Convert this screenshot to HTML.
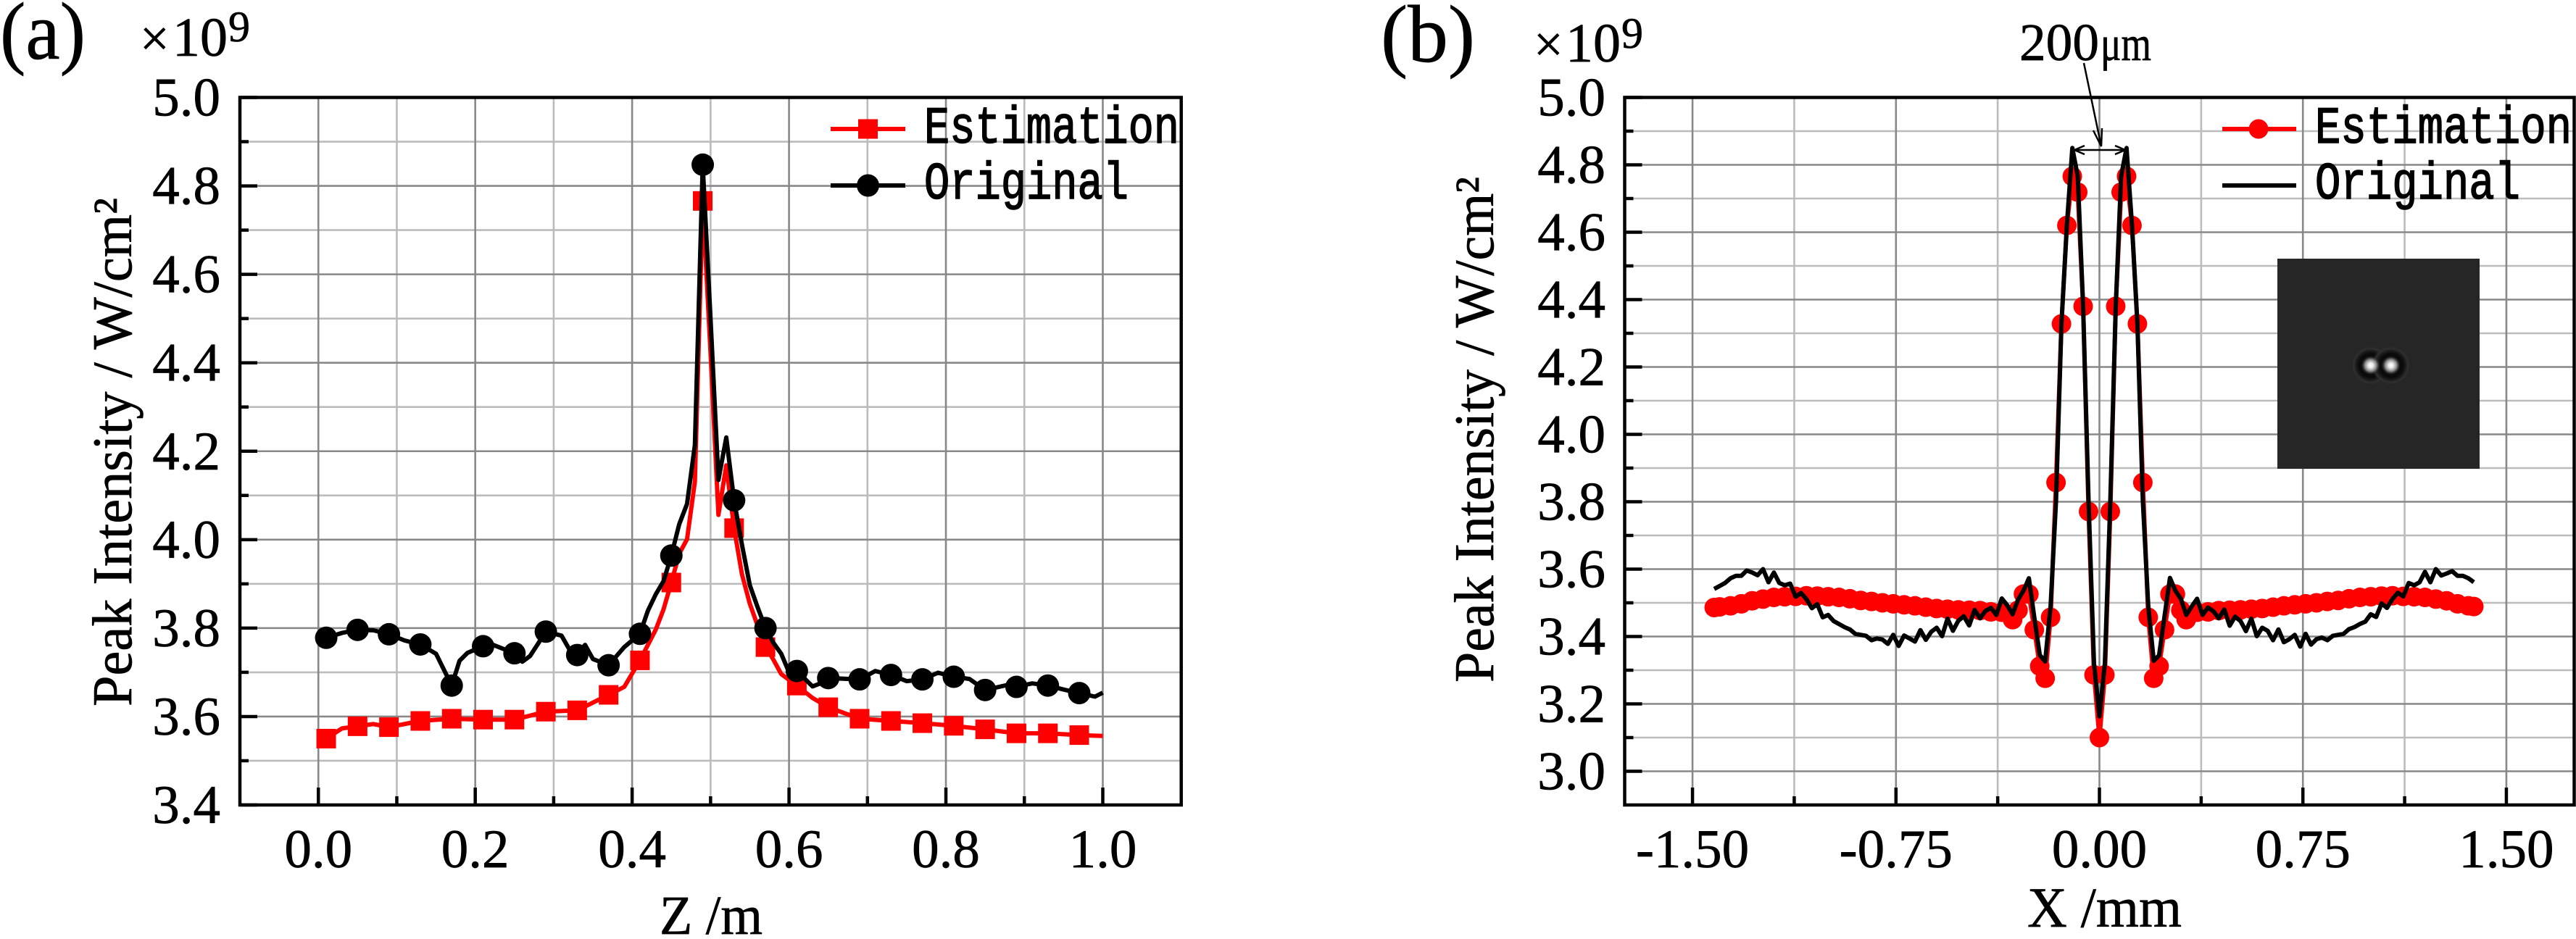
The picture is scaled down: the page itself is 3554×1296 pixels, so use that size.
<!DOCTYPE html>
<html lang="en">
<head>
<meta charset="utf-8">
<title>Peak intensity charts</title>
<style>
html,body{margin:0;padding:0;background:#fff;width:3554px;height:1296px;overflow:hidden}
svg{display:block}
text{font-family:"Liberation Serif","Noto Serif CJK SC",serif;fill:#000;stroke:#000;stroke-width:.7px}
text.mono{font-family:"Liberation Mono",monospace;stroke-width:1.6px}
</style>
</head>
<body>
<svg id="figure" xmlns="http://www.w3.org/2000/svg" width="3554" height="1296" viewBox="0 0 3554 1296">
  <defs>
    <radialGradient id="spot-halo">
      <stop offset="0" stop-color="#050505"/>
      <stop offset="0.6" stop-color="#0a0a0a"/>
      <stop offset="0.74" stop-color="#1a1a1a"/>
      <stop offset="0.87" stop-color="#303030"/>
      <stop offset="1" stop-color="#262626" stop-opacity="0"/>
    </radialGradient>
    <radialGradient id="spot-core">
      <stop offset="0" stop-color="#ffffff"/>
      <stop offset="0.25" stop-color="#e8e8e8"/>
      <stop offset="0.6" stop-color="#808080"/>
      <stop offset="1" stop-color="#0a0a0a" stop-opacity="0"/>
    </radialGradient>
  </defs>
  <rect width="3554" height="1296" fill="#fff"/>

  <g id="panel-a"></g>
  <g id="panel-b"></g>

  <text x="0" y="81" font-size="112" textLength="118" lengthAdjust="spacingAndGlyphs">(a)</text>
  <text x="1905" y="85" font-size="112" textLength="130" lengthAdjust="spacingAndGlyphs">(b)</text>

  <g>
    <text x="193" y="77" font-size="72">×</text>
    <text x="238" y="77" font-size="76">10</text>
    <text x="315" y="57" font-size="60">9</text>
  </g>
  <g>
    <text x="2116" y="85" font-size="72">×</text>
    <text x="2160" y="85" font-size="76">10</text>
    <text x="2237" y="66" font-size="60">9</text>
  </g>

  <text transform="translate(181,975) rotate(-90)" font-size="77" textLength="702" lengthAdjust="spacingAndGlyphs">Peak Intensity / W/cm²</text>
  <text transform="translate(2060,942) rotate(-90)" font-size="77" textLength="698" lengthAdjust="spacingAndGlyphs">Peak Intensity / W/cm²</text>
  <text x="910" y="1289" font-size="76" textLength="142" lengthAdjust="spacingAndGlyphs">Z /m</text>
  <text x="2797" y="1279" font-size="78" textLength="213" lengthAdjust="spacingAndGlyphs">X /mm</text>

  <g>
    <rect x="3142" y="357" width="279" height="290" fill="#262626"/>
    <circle cx="3270.7" cy="504.3" r="27" fill="url(#spot-halo)"/>
    <circle cx="3298.7" cy="504.3" r="27" fill="url(#spot-halo)"/>
    <circle cx="3270.7" cy="504.3" r="14" fill="url(#spot-core)"/>
    <circle cx="3298.7" cy="504.3" r="14" fill="url(#spot-core)"/>
  </g>

  <g>
    <text x="2786" y="83" font-size="73" textLength="110" lengthAdjust="spacingAndGlyphs">200</text>
    <text x="2898" y="83" font-size="68" textLength="70" lengthAdjust="spacingAndGlyphs">μm</text>
    <path d="M2875 87L2899 202M2888 180L2899 202L2900 177" fill="none" stroke="#000" stroke-width="2.5"/>
    <path d="M2862 207H2932M2876 201L2862 207L2876 213M2918 201L2932 207L2918 213" fill="none" stroke="#000" stroke-width="2.5"/>
  </g>
</svg>
<script>
/* ---------- panel (a) data ---------- */
const zMajorTicks = [0, 0.2, 0.4, 0.6, 0.8, 1.0];
const zMinorTicks = [0.1, 0.3, 0.5, 0.7, 0.9];
const zTickLabels = ["0.0", "0.2", "0.4", "0.6", "0.8", "1.0"];
const intensityMajorA = [3.4, 3.6, 3.8, 4.0, 4.2, 4.4, 4.6, 4.8, 5.0];
const intensityMinorA = [3.5, 3.7, 3.9, 4.1, 4.3, 4.5, 4.7, 4.9];
const intensityLabelsA = ["3.4", "3.6", "3.8", "4.0", "4.2", "4.4", "4.6", "4.8", "5.0"];

const originalZ = [0.01,0.03,0.05,0.07,0.09,0.11,0.13,0.15,0.17,0.18,0.19,0.21,0.22,0.25,0.26,0.27,0.29,0.31,0.32,0.33,0.34,0.35,0.37,0.39,0.41,0.42,0.43,0.44,0.45,0.46,0.47,0.48,0.49,0.50,0.51,0.52,0.53,0.54,0.55,0.56,0.57,0.58,0.59,0.60,0.61,0.63,0.64,0.65,0.69,0.71,0.73,0.75,0.77,0.79,0.81,0.83,0.85,0.88,0.89,0.91,0.93,0.95,0.97,0.99,1.00];
const originalIntensityA = [3.778,3.789,3.796,3.795,3.786,3.772,3.763,3.742,3.670,3.726,3.744,3.759,3.764,3.743,3.724,3.737,3.792,3.783,3.752,3.739,3.762,3.730,3.716,3.757,3.787,3.839,3.876,3.906,3.964,4.035,4.081,4.214,4.848,4.500,4.135,4.231,4.089,3.989,3.897,3.847,3.800,3.767,3.742,3.700,3.703,3.668,3.675,3.687,3.684,3.703,3.694,3.680,3.684,3.699,3.690,3.685,3.660,3.672,3.667,3.675,3.670,3.661,3.653,3.645,3.654];
const estimationZ = [0.01,0.03,0.05,0.07,0.09,0.13,0.17,0.21,0.25,0.29,0.33,0.37,0.39,0.41,0.43,0.44,0.45,0.46,0.47,0.48,0.49,0.50,0.51,0.52,0.53,0.54,0.55,0.56,0.57,0.58,0.59,0.61,0.63,0.65,0.69,0.73,0.77,0.81,0.85,0.89,0.93,0.97,1.00];
const estimationIntensityA = [3.550,3.573,3.578,3.583,3.576,3.590,3.595,3.593,3.593,3.611,3.614,3.649,3.667,3.727,3.796,3.842,3.903,3.968,4.001,4.131,4.766,4.423,4.056,4.168,4.026,3.922,3.855,3.805,3.757,3.729,3.696,3.670,3.642,3.621,3.595,3.590,3.585,3.579,3.571,3.562,3.562,3.558,3.556];

/* ---------- panel (b) data ---------- */
const xMajorTicks = [-1.5, -0.75, 0, 0.75, 1.5];
const xMinorTicks = [-1.125, -0.375, 0.375, 1.125];
const xTickLabels = ["-1.50", "-0.75", "0.00", "0.75", "1.50"];
const intensityMajorB = [3.0, 3.2, 3.4, 3.6, 3.8, 4.0, 4.2, 4.4, 4.6, 4.8, 5.0];
const intensityMinorB = [3.1, 3.3, 3.5, 3.7, 3.9, 4.1, 4.3, 4.5, 4.7, 4.9];
const intensityLabelsB = ["3.0", "3.2", "3.4", "3.6", "3.8", "4.0", "4.2", "4.4", "4.6", "4.8", "5.0"];

const estimationX = [-1.42,-1.40,-1.36,-1.32,-1.28,-1.24,-1.20,-1.16,-1.12,-1.08,-1.04,-1.00,-0.96,-0.92,-0.88,-0.84,-0.80,-0.76,-0.72,-0.68,-0.64,-0.60,-0.56,-0.52,-0.48,-0.44,-0.40,-0.36,-0.32,-0.30,-0.28,-0.26,-0.24,-0.22,-0.20,-0.18,-0.16,-0.14,-0.12,-0.10,-0.08,-0.06,-0.04,-0.02,0,0.02,0.04,0.06,0.08,0.10,0.12,0.14,0.16,0.18,0.20,0.22,0.24,0.26,0.28,0.30,0.32,0.36,0.40,0.44,0.48,0.52,0.56,0.60,0.64,0.68,0.72,0.76,0.80,0.84,0.88,0.92,0.96,1.00,1.04,1.08,1.12,1.16,1.20,1.24,1.28,1.32,1.36,1.38];
const estimationIntensityB = [3.486,3.488,3.491,3.497,3.506,3.511,3.516,3.518,3.519,3.521,3.520,3.518,3.516,3.512,3.507,3.504,3.500,3.497,3.494,3.491,3.487,3.483,3.481,3.479,3.478,3.477,3.473,3.472,3.450,3.478,3.526,3.526,3.420,3.312,3.276,3.457,3.857,4.328,4.620,4.766,4.719,4.380,3.771,3.286,3.100,3.286,3.771,4.380,4.719,4.766,4.620,4.328,3.857,3.457,3.276,3.312,3.420,3.526,3.526,3.478,3.450,3.472,3.473,3.477,3.478,3.479,3.481,3.483,3.487,3.491,3.494,3.497,3.500,3.504,3.507,3.512,3.516,3.518,3.520,3.521,3.519,3.518,3.516,3.511,3.506,3.497,3.491,3.489];

const originalX = [-1.42,-1.40,-1.38,-1.36,-1.34,-1.32,-1.30,-1.28,-1.26,-1.24,-1.22,-1.20,-1.18,-1.16,-1.14,-1.12,-1.10,-1.08,-1.06,-1.04,-1.02,-1.00,-0.98,-0.96,-0.94,-0.92,-0.90,-0.88,-0.86,-0.84,-0.82,-0.80,-0.78,-0.76,-0.74,-0.72,-0.70,-0.68,-0.66,-0.64,-0.62,-0.60,-0.58,-0.56,-0.54,-0.52,-0.50,-0.48,-0.46,-0.44,-0.42,-0.40,-0.38,-0.36,-0.34,-0.32,-0.30,-0.28,-0.26,-0.24,-0.22,-0.20,-0.18,-0.16,-0.14,-0.12,-0.10,-0.08,-0.06,-0.04,-0.02,0,0.02,0.04,0.06,0.08,0.10,0.12,0.14,0.16,0.18,0.20,0.22,0.24,0.26,0.28,0.30,0.32,0.34,0.36,0.38,0.40,0.42,0.44,0.46,0.48,0.50,0.52,0.54,0.56,0.58,0.60,0.62,0.64,0.66,0.68,0.70,0.72,0.74,0.76,0.78,0.80,0.82,0.84,0.86,0.88,0.90,0.92,0.94,0.96,0.98,1.00,1.02,1.04,1.06,1.08,1.10,1.12,1.14,1.16,1.18,1.20,1.22,1.24,1.26,1.28,1.30,1.32,1.34,1.36,1.38];
const originalIntensityB = [3.541,3.550,3.559,3.573,3.580,3.580,3.596,3.590,3.582,3.600,3.561,3.590,3.559,3.552,3.557,3.518,3.529,3.511,3.484,3.496,3.457,3.464,3.446,3.437,3.428,3.421,3.408,3.405,3.402,3.389,3.394,3.391,3.378,3.405,3.372,3.403,3.394,3.385,3.419,3.390,3.414,3.426,3.401,3.453,3.417,3.447,3.460,3.433,3.479,3.454,3.476,3.485,3.464,3.513,3.493,3.466,3.509,3.536,3.573,3.456,3.345,3.326,3.489,3.802,4.328,4.622,4.850,4.766,4.380,3.802,3.320,3.163,3.320,3.802,4.380,4.766,4.850,4.622,4.328,3.802,3.489,3.328,3.344,3.460,3.574,3.536,3.512,3.464,3.489,3.512,3.464,3.486,3.475,3.454,3.480,3.432,3.459,3.446,3.416,3.453,3.401,3.426,3.417,3.389,3.421,3.383,3.392,3.405,3.370,3.408,3.376,3.392,3.397,3.389,3.402,3.405,3.408,3.422,3.428,3.437,3.444,3.466,3.458,3.498,3.485,3.511,3.530,3.519,3.559,3.552,3.561,3.592,3.561,3.600,3.581,3.587,3.594,3.580,3.580,3.573,3.561];

/* ---------- helpers ---------- */
const NS = 'http://www.w3.org/2000/svg';
function mk(tag, parent, attrs) {
  const el = document.createElementNS(NS, tag);
  for (const k in attrs) el.setAttribute(k, attrs[k]);
  parent.appendChild(el);
  return el;
}
function scale(lo, hi, a, b) { return v => a + (v - lo) * (b - a) / (hi - lo); }
const MAJOR = '#888888', MINOR = '#bcbcbc';

function drawAxes(g, sx, sy, box, xMajor, xMinor, yMajor, yMinor) {
  xMinor.forEach(v => {
    const el = mk('line', g, {x1: sx(v), x2: sx(v), y1: box.top, y2: box.bottom, stroke: MINOR, 'stroke-width': 2.6});
    
    
  });
  yMinor.forEach(v => {
    const el = mk('line', g, {x1: box.left, x2: box.right, y1: sy(v), y2: sy(v), stroke: MINOR, 'stroke-width': 2.6});
    
    
  });
  xMajor.forEach(v => {
    const el = mk('line', g, {x1: sx(v), x2: sx(v), y1: box.top, y2: box.bottom, stroke: MAJOR, 'stroke-width': 2.6});
    
    
  });
  yMajor.forEach(v => {
    const el = mk('line', g, {x1: box.left, x2: box.right, y1: sy(v), y2: sy(v), stroke: MAJOR, 'stroke-width': 2.6});
    
    
  });
}

function drawFrame(g, sx, sy, box, xMajor, xMinor, yMajor, yMinor, xLabels, yLabels, labelRight) {
  xMajor.forEach(v => {
    const el = mk('line', g, {x1: sx(v), x2: sx(v), y1: box.bottom, y2: box.bottom - 24, stroke: '#000', 'stroke-width': 4.5});
    
    
  });
  xMinor.forEach(v => {
    const el = mk('line', g, {x1: sx(v), x2: sx(v), y1: box.bottom, y2: box.bottom - 12, stroke: '#000', 'stroke-width': 4.5});
    
    
  });
  yMajor.forEach(v => {
    const el = mk('line', g, {x1: box.left, x2: box.left + 24, y1: sy(v), y2: sy(v), stroke: '#000', 'stroke-width': 4.5});
    
    
  });
  yMinor.forEach(v => {
    const el = mk('line', g, {x1: box.left, x2: box.left + 12, y1: sy(v), y2: sy(v), stroke: '#000', 'stroke-width': 4.5});
    
    
  });
  const frame = mk('rect', g, {x: box.left, y: box.top, width: box.right - box.left, height: box.bottom - box.top, fill: 'none', stroke: '#000', 'stroke-width': 4.5});
  
  
  xMajor.forEach((v, i) => {
    const el = mk('text', g, {x: sx(v), y: 1197, 'text-anchor': 'middle', 'font-size': 75});
    el.textContent = xLabels[i];
    
    
  });
  yMajor.forEach((v, i) => {
    const el = mk('text', g, {x: labelRight, y: sy(v) + 25, 'text-anchor': 'end', 'font-size': 75});
    el.textContent = yLabels[i];
    
    
  });
}

function polyline(g, xs, ys, sx, sy, color) {
  const pts = xs.map((x, i) => sx(x).toFixed(1) + ',' + sy(ys[i]).toFixed(1)).join(' ');
  return mk('polyline', g, {points: pts, fill: 'none', stroke: color, 'stroke-width': 6, 'stroke-linejoin': 'round'});
}
function isMarkerZ(z) { return Math.round(z * 100) % 4 === 1; }

function legendText(g, x, y, len, str) {
  const el = mk('text', g, {x: x, y: y, 'font-size': 72, textLength: len, lengthAdjust: 'spacingAndGlyphs', 'class': 'mono'});
  el.textContent = str;
  return el;
}

/* ---------- panel (a) ---------- */
const panelA = document.getElementById('panel-a');
const boxA = {left: 331, right: 1629.7, top: 134.5, bottom: 1111};
const sxA = scale(-0.1, 1.1, boxA.left, boxA.right);
const syA = scale(3.4, 5.0, boxA.bottom, boxA.top);
drawAxes(panelA, sxA, syA, boxA, zMajorTicks, zMinorTicks, intensityMajorA, intensityMinorA);

const estLineA = polyline(panelA, estimationZ, estimationIntensityA, sxA, syA, '#ff0000');


estimationZ.forEach((z, i) => {
  if (!isMarkerZ(z)) return;
  const el = mk('rect', panelA, {x: sxA(z) - 13.5, y: syA(estimationIntensityA[i]) - 13.5, width: 27, height: 27, fill: '#ff0000'});
  
  
});
const origLineA = polyline(panelA, originalZ, originalIntensityA, sxA, syA, '#000000');


originalZ.forEach((z, i) => {
  if (!isMarkerZ(z)) return;
  const el = mk('circle', panelA, {cx: sxA(z), cy: syA(originalIntensityA[i]), r: 15.5, fill: '#000'});
  
  
});
drawFrame(panelA, sxA, syA, boxA, zMajorTicks, zMinorTicks, intensityMajorA, intensityMinorA, zTickLabels, intensityLabelsA, 304);

const legendA = mk('g', panelA, {});


mk('line', legendA, {x1: 1146, x2: 1249, y1: 178, y2: 178, stroke: '#ff0000', 'stroke-width': 6});
mk('rect', legendA, {x: 1184, y: 164.5, width: 27, height: 27, fill: '#ff0000'});
mk('line', legendA, {x1: 1146, x2: 1249, y1: 256, y2: 256, stroke: '#000', 'stroke-width': 6});
mk('circle', legendA, {cx: 1197.5, cy: 256, r: 15.5, fill: '#000'});
const legAEst = legendText(legendA, 1275, 197, 352, 'Estimation');


const legAOrig = legendText(legendA, 1275, 274, 282, 'Original');



/* ---------- panel (b) ---------- */
const panelB = document.getElementById('panel-b');
const boxB = {left: 2241.5, right: 3551.5, top: 134.5, bottom: 1111};
const sxB = scale(-1.75, 1.75, boxB.left, boxB.right);
const syB = scale(2.9, 5.0, boxB.bottom, boxB.top);
drawAxes(panelB, sxB, syB, boxB, xMajorTicks, xMinorTicks, intensityMajorB, intensityMinorB);

const estLineB = polyline(panelB, estimationX, estimationIntensityB, sxB, syB, '#ff0000');


estimationX.forEach((x, i) => {
  const el = mk('circle', panelB, {cx: sxB(x), cy: syB(estimationIntensityB[i]), r: 13.5, fill: '#ff0000'});
  
  
});
const origLineB = polyline(panelB, originalX, originalIntensityB, sxB, syB, '#000000');


drawFrame(panelB, sxB, syB, boxB, xMajorTicks, xMinorTicks, intensityMajorB, intensityMinorB, xTickLabels, intensityLabelsB, 2215);

const legendB = mk('g', panelB, {});


mk('line', legendB, {x1: 3066, x2: 3168, y1: 178, y2: 178, stroke: '#ff0000', 'stroke-width': 6});
mk('circle', legendB, {cx: 3116, cy: 178, r: 13.5, fill: '#ff0000'});
mk('line', legendB, {x1: 3066, x2: 3168, y1: 256, y2: 256, stroke: '#000', 'stroke-width': 6});
const legBEst = legendText(legendB, 3194, 197, 354, 'Estimation');


const legBOrig = legendText(legendB, 3194, 274, 283, 'Original');


</script>
</body>
</html>
